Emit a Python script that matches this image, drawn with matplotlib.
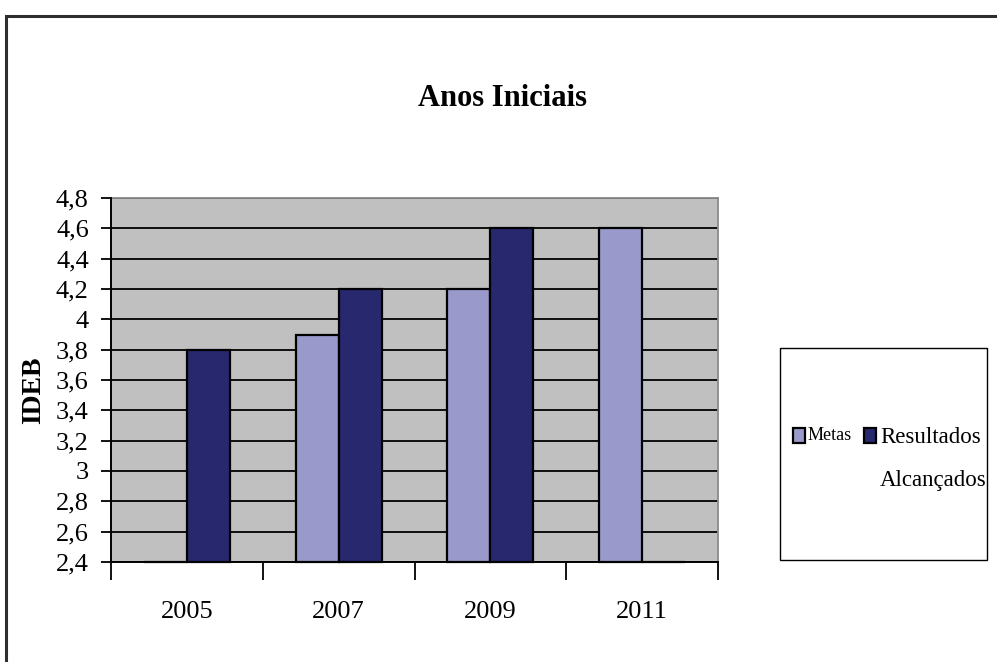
import matplotlib
matplotlib.use("Agg")
import matplotlib.pyplot as plt
from matplotlib.patches import Rectangle
import numpy as np

# ---- data ----
title = "Anos Iniciais"
y_label = "IDEB"
years = ["2005", "2007", "2009", "2011"]
series_names = ["Metas", "Resultados\nAlcançados"]
metas = [2.4, 3.9, 4.2, 4.6]          # 2005 has no target (drawn at baseline)
resultados = [3.8, 4.2, 4.6, 2.4]     # 2011 has no result (drawn at baseline)
y_ticks = [2.4, 2.6, 2.8, 3.0, 3.2, 3.4, 3.6, 3.8, 4.0, 4.2, 4.4, 4.6, 4.8]
y_ticklabels = ["2,4", "2,6", "2,8", "3", "3,2", "3,4", "3,6", "3,8", "4", "4,2", "4,4", "4,6", "4,8"]
colors = ["#9999CC", "#28286E"]

SERIF = ["Liberation Serif", "DejaVu Serif"]

W, H = 997, 662
fig = plt.figure(figsize=(W / 100, H / 100), dpi=100)

# outer frame of the chart object (extends past right/bottom edges)
fig.patches.append(Rectangle((6 / W, -0.2), 1.2, 1 - 16 / H + 0.2, transform=fig.transFigure,
                             fill=False, edgecolor="#2e2e2e", linewidth=2.2, zorder=0))

ax = fig.add_axes([111 / W, 1 - 562 / H, (718 - 111) / W, (562 - 198) / H])
ax.set_facecolor("#C0C0C0")

x = np.arange(len(years))
bw = 0.283
bar_sets = [metas, resultados]
base = y_ticks[0]
for i, (vals, col) in enumerate(zip(bar_sets, colors)):
    v = np.array(vals)
    ax.bar(x + (i - 0.5) * bw, v - base, bw, bottom=base, color=col,
           edgecolor="black", linewidth=1.6, zorder=3, clip_on=False)

ax.set_xlim(-0.5, len(years) - 0.5)
ax.set_ylim(y_ticks[0], y_ticks[-1])

# grid
ax.set_yticks(y_ticks)
ax.set_yticklabels(y_ticklabels, family=SERIF, fontsize=19)
ax.yaxis.grid(True, color="black", linewidth=1.3, zorder=1)
ax.set_axisbelow(True)
ax.tick_params(axis="y", length=7, width=1.3, pad=9, color="black")

# x ticks: marks at category borders, labels centred
ax.set_xticks(np.arange(-0.5, len(years), 1.0))
ax.set_xticklabels([""] * (len(years) + 1))
ax.tick_params(axis="x", which="major", length=13, width=1.3, color="black")
ax.set_xticks(x, minor=True)
ax.set_xticklabels(years, minor=True, family=SERIF, fontsize=19)
ax.tick_params(axis="x", which="minor", length=0, pad=28)

for side in ["top", "right"]:
    ax.spines[side].set_color("#8a8a8a")
    ax.spines[side].set_linewidth(1.3)
for side in ["left", "bottom"]:
    ax.spines[side].set_color("black")
    ax.spines[side].set_linewidth(1.4)
    ax.spines[side].set_zorder(4)

ax.set_ylabel(y_label, family=SERIF, fontsize=20, fontweight="bold")
ax.yaxis.set_label_coords((46 - 111) / (718 - 111), (562 - 390) / (562 - 198))

fig.text(502 / W, 1 - 99 / H, title, family=SERIF, fontsize=22, fontweight="bold",
         ha="center", va="center")

# legend (box with two entries)
fig.patches.append(Rectangle((780 / W, 1 - 560 / H), (987 - 780) / W, (560 - 348) / H,
                             transform=fig.transFigure, facecolor="white",
                             edgecolor="black", linewidth=1.0, zorder=1))
# entry 1
fig.patches.append(Rectangle((793 / W, 1 - 443 / H), 12 / W, 15 / H, transform=fig.transFigure,
                             facecolor=colors[0], edgecolor="black", linewidth=1.6, zorder=2))
fig.text(808 / W, 1 - 436 / H, series_names[0], family=SERIF, fontsize=13,
         ha="left", va="center", zorder=3)
# entry 2
fig.patches.append(Rectangle((864 / W, 1 - 443 / H), 12 / W, 15 / H, transform=fig.transFigure,
                             facecolor=colors[1], edgecolor="black", linewidth=1.6, zorder=2))
fig.text(880 / W, 1 - 427 / H, series_names[1], family=SERIF, fontsize=16.5,
         ha="left", va="top", linespacing=2.4, zorder=3)

fig.savefig("out.png", dpi=100)
